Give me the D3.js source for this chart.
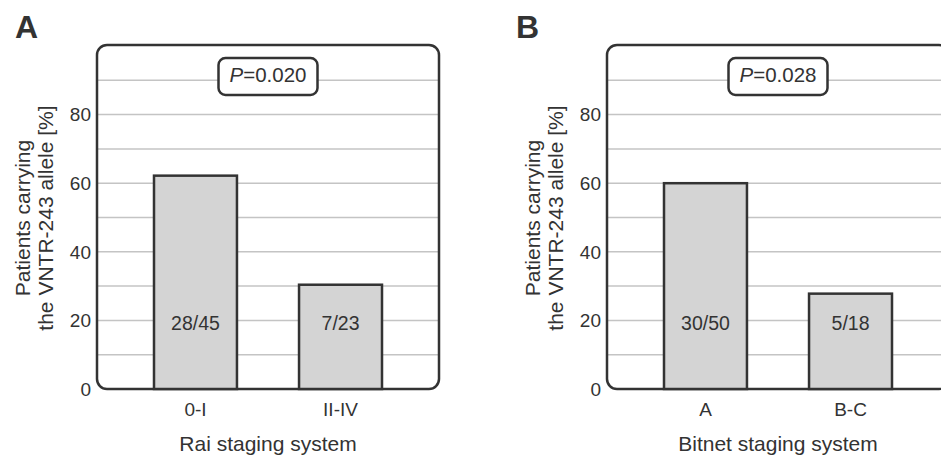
<!DOCTYPE html>
<html>
<head>
<meta charset="utf-8">
<script src="https://cdn.jsdelivr.net/npm/d3@7"></script>
<style>
  body { margin: 0; background: #fff; }
  svg { display: block; font-family: "Liberation Sans", Arial, sans-serif; }
</style>
</head>
<body>
<svg id="chart" width="941" height="455"></svg>
<script>
// Panel A: Rai staging
const raiCategories = ['0-I', 'II-IV'];
const raiValues = [62.2, 30.4];
const raiCounts = ['28/45', '7/23'];
const raiP = '0.020';

// Panel B: Binet staging
const bitnetCategories = ['A', 'B-C'];
const bitnetValues = [60.0, 27.8];
const bitnetCounts = ['30/50', '5/18'];
const bitnetP = '0.028';

const yTicks = [0, 20, 40, 60, 80];
const gridValues = [10, 20, 30, 40, 50, 60, 70, 80, 90];

const svg = d3.select('#chart');
const ink = '#333';

function drawPanel(offsetX, letter, letterX, cats, vals, counts, pval, xTitle) {
  const g = svg.append('g').attr('transform', `translate(${offsetX},0)`);

  const left = 97, right = 439, top = 46, bottom = 389;

  const y = d3.scaleLinear().domain([0, 100]).range([bottom, top]);
  const x = d3.scaleBand()
    .domain(cats)
    .range([left, right])
    .paddingInner(0.428)
    .paddingOuter(0.393);

  // gridlines
  g.append('g')
    .selectAll('line')
    .data(gridValues)
    .enter().append('line')
    .attr('x1', left).attr('x2', right)
    .attr('y1', d => y(d)).attr('y2', d => y(d))
    .attr('stroke', '#c4c4c4')
    .attr('stroke-width', 1.5);

  // frame (rounded)
  g.append('rect')
    .attr('x', left).attr('y', y(100) - 1)
    .attr('width', right - left).attr('height', bottom - y(100) + 1)
    .attr('rx', 10).attr('ry', 10)
    .attr('fill', 'none')
    .attr('stroke', ink)
    .attr('stroke-width', 2.5);

  // bars
  g.append('g')
    .selectAll('rect')
    .data(cats)
    .enter().append('rect')
    .attr('x', d => x(d))
    .attr('y', (d, i) => y(vals[i]))
    .attr('width', x.bandwidth())
    .attr('height', (d, i) => y(0) - y(vals[i]))
    .attr('fill', '#d4d4d4')
    .attr('stroke', ink)
    .attr('stroke-width', 2.5);

  // count labels inside bars
  g.append('g')
    .selectAll('text')
    .data(cats)
    .enter().append('text')
    .attr('x', d => x(d) + x.bandwidth() / 2)
    .attr('y', y(20) + 9.5)
    .attr('text-anchor', 'middle')
    .attr('font-size', 19.5)
    .attr('fill', ink)
    .text((d, i) => counts[i]);

  // y tick labels
  g.append('g')
    .selectAll('text')
    .data(yTicks)
    .enter().append('text')
    .attr('x', left - 6)
    .attr('y', d => y(d))
    .attr('dy', '0.36em')
    .attr('text-anchor', 'end')
    .attr('font-size', 19)
    .attr('fill', ink)
    .text(d => d);

  // category labels
  g.append('g')
    .selectAll('text')
    .data(cats)
    .enter().append('text')
    .attr('x', d => x(d) + x.bandwidth() / 2)
    .attr('y', 416)
    .attr('text-anchor', 'middle')
    .attr('font-size', 19)
    .attr('fill', ink)
    .text(d => d);

  // x title
  g.append('text')
    .attr('x', (left + right) / 2)
    .attr('y', 451)
    .attr('text-anchor', 'middle')
    .attr('font-size', 21)
    .attr('fill', ink)
    .text(xTitle);

  // y title (two lines)
  const yt = g.append('text')
    .attr('transform', 'translate(0,218) rotate(-90)')
    .attr('text-anchor', 'middle')
    .attr('font-size', 21)
    .attr('fill', ink);
  yt.append('tspan').attr('x', 0).attr('y', 29.5).text('Patients carrying');
  yt.append('tspan').attr('x', 0).attr('y', 53).text('the VNTR-243 allele [%]');

  // P value box
  const cx = (left + right) / 2;
  g.append('rect')
    .attr('x', cx - 49.5).attr('y', 58)
    .attr('width', 99).attr('height', 37)
    .attr('rx', 7).attr('ry', 7)
    .attr('fill', '#fff')
    .attr('stroke', ink)
    .attr('stroke-width', 2.5);
  const pt = g.append('text')
    .attr('x', cx).attr('y', 75)
    .attr('dy', '0.36em')
    .attr('text-anchor', 'middle')
    .attr('font-size', 20.5)
    .attr('fill', ink);
  pt.append('tspan').attr('font-style', 'italic').text('P');
  pt.append('tspan').text('=' + pval);

  // panel letter
  svg.append('text')
    .attr('x', letterX).attr('y', 38)
    .attr('font-size', 32)
    .attr('font-weight', 'bold')
    .attr('fill', ink)
    .text(letter);
}

drawPanel(0, 'A', 15, raiCategories, raiValues, raiCounts, raiP, 'Rai staging system');
drawPanel(510, 'B', 516, bitnetCategories, bitnetValues, bitnetCounts, bitnetP, 'Bitnet staging system');
</script>
</body>
</html>
